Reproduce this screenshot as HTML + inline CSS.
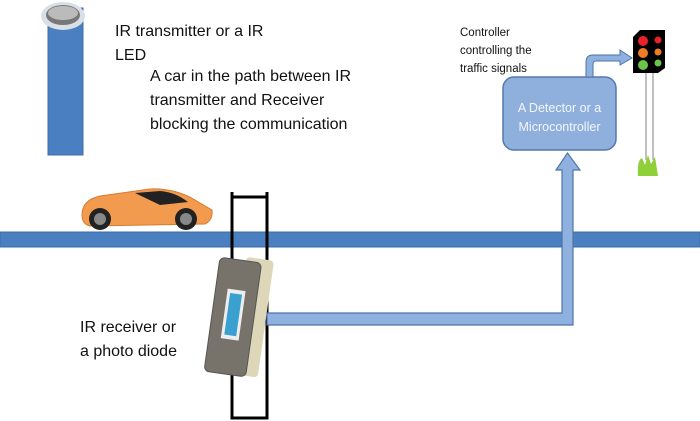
<!DOCTYPE html>
<html><head><style>
body{margin:0;width:700px;height:421px;background:#fff;position:relative;overflow:hidden;font-family:"Liberation Sans",sans-serif}
.t{position:absolute;color:#111;white-space:nowrap}
</style></head><body>
<svg width="700" height="421" style="position:absolute;left:0;top:0">
<rect x="48" y="8" width="35" height="147" fill="#4a7fc1" stroke="#3f6ca5"/>
<ellipse cx="63" cy="16" rx="22" ry="14" fill="#d8dfe6"/>
<ellipse cx="63" cy="15" rx="17" ry="10" fill="#777"/>
<ellipse cx="63" cy="13" rx="15" ry="7" fill="#bbb"/>
<rect x="0" y="232" width="700" height="15" fill="#4a7fc0" stroke="#3e6ea8"/>
<!-- car -->
<path d="M82 215 Q82 200 100 196 L150 189 Q175 188 195 200 L212 210 Q213 220 205 224 L90 226 Q82 224 82 215Z" fill="#f29a4e" stroke="#d77a30"/>
<path d="M135 193 L160 191 Q175 192 188 202 L160 205Z" fill="#222"/>
<circle cx="100" cy="219" r="11" fill="#222"/><circle cx="100" cy="219" r="6" fill="#888"/>
<circle cx="186" cy="219" r="11" fill="#222"/><circle cx="186" cy="219" r="6" fill="#888"/>
<!-- frame -->
<path d="M232 192 V418 H267 V192 M232 197 H267" fill="none" stroke="#000" stroke-width="3"/>
<!-- receiver -->
<g transform="rotate(8 236 316)">
<rect x="238" y="256" width="28" height="118" rx="4" fill="#ddd6b8"/>
<rect x="212" y="260" width="42" height="115" rx="5" fill="#77736a" stroke="#555"/>
<rect x="224" y="290" width="18" height="50" fill="#eee"/>
<rect x="227" y="294" width="12" height="42" fill="#3aa0d0"/>
</g>
<!-- connector -->
<path d="M267 313 H562 V170 H556 L567.5 153 L580 170 H573 V325 H267 Z" fill="#8fb1e0" stroke="#4f74a8" stroke-width="1.2"/>
<rect x="503" y="77" width="113" height="73" rx="11" fill="#8fb0dd" stroke="#5578ae" stroke-width="1.5"/>
<path d="M586 77 V62 Q586 55 593 55 H620 V50 L632 58 L620 65 V61 H596 Q593 61 593 64 V77Z" fill="#8fb1e0" stroke="#4f74a8"/>
<!-- traffic light -->
<line x1="646" y1="73" x2="646" y2="160" stroke="#aaa" stroke-width="1.5"/>
<line x1="653" y1="73" x2="653" y2="160" stroke="#aaa" stroke-width="1.5"/>
<path d="M633 37 L640 30 H665 V68 L658 73 H633Z" fill="#000"/>
<circle cx="643" cy="41" r="5" fill="#e8222a"/><circle cx="658" cy="40" r="3.5" fill="#e8222a"/>
<circle cx="643" cy="53" r="5" fill="#f07a25"/><circle cx="658" cy="52" r="3.5" fill="#f07a25"/>
<circle cx="643" cy="65" r="5" fill="#6cc34a"/><circle cx="658" cy="63" r="3.5" fill="#6cc34a"/>
<path d="M638 176 Q637 160 642 158 L645 165 L648 155 L651 164 L655 157 L658 176Z" fill="#8fcf3a"/>
</svg>
<div class="t" style="left:115px;top:20px;font-size:16px;line-height:24px">IR transmitter or a IR<br>LED</div>
<div class="t" style="left:150px;top:65px;font-size:16px;line-height:24px">A car in the path between IR<br>transmitter and Receiver<br>blocking the communication</div>
<div class="t" style="left:460px;top:24px;font-size:11.5px;line-height:18px">Controller<br>controlling the<br>traffic signals</div>
<div class="t" style="left:503px;top:99px;width:113px;text-align:center;font-size:12.5px;line-height:19px;color:#f4f7fc">A Detector or a<br>Microcontroller</div>
<div class="t" style="left:80px;top:316px;font-size:16px;line-height:24px">IR receiver or<br>a photo diode</div>
</body></html>
